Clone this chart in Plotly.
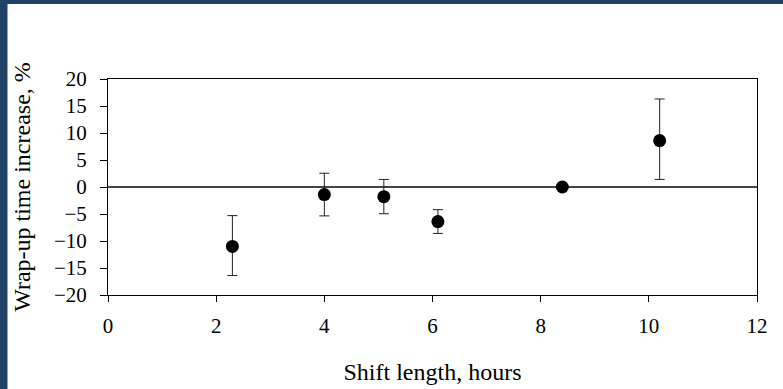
import plotly.graph_objects as go

shift_hours = [2.3, 4.0, 5.1, 6.1, 8.4, 10.2]
wrapup_increase = [-11.0, -1.4, -1.8, -6.4, 0.0, 8.6]
err_plus = [5.7, 3.95, 3.2, 2.2, 0.0, 7.7]
err_minus = [5.4, 3.95, 3.15, 2.2, 0.0, 7.2]

x_ticks = [0, 2, 4, 6, 8, 10, 12]
y_ticks = [-20, -15, -10, -5, 0, 5, 10, 15, 20]

FONT = "Liberation Serif, Times New Roman, serif"

fig = go.Figure()
fig.add_trace(go.Scatter(
    x=shift_hours, y=wrapup_increase, mode="markers",
    marker=dict(color="black", size=13),
    error_y=dict(type="data", symmetric=False, array=err_plus, arrayminus=err_minus,
                 color="#222222", thickness=1, width=5),
    showlegend=False,
))

axis_common = dict(showline=True, linecolor="black", linewidth=1, mirror=True,
                   ticks="outside", tickcolor="black", tickwidth=1, automargin=False,
                   showgrid=False, tickfont=dict(family=FONT, size=21, color="black"))

fig.update_layout(
    width=783, height=389,
    margin=dict(l=107.5, r=26, t=79, b=93.5),
    paper_bgcolor="white", plot_bgcolor="white",
    font=dict(family=FONT, size=21, color="black"),
    xaxis=dict(range=[0, 12], tickvals=x_ticks, ticklen=6, zeroline=False,
               ticklabelstandoff=6,
               title=dict(text="Shift length, hours", font=dict(family=FONT, size=24), standoff=25),
               **axis_common),
    yaxis=dict(range=[-20, 20], tickvals=y_ticks, ticklen=7, zeroline=True,
               zerolinecolor="#444444", zerolinewidth=1.5,
               ticklabelstandoff=9,
               title=dict(text="Wrap-up time increase, %", font=dict(family=FONT, size=24), standoff=16),
               **axis_common),
)

BLUE = "#1F4266"
# left border
fig.add_shape(type="rect", xref="paper", yref="paper", xsizemode="pixel", ysizemode="pixel",
              xanchor=0, yanchor=0, x0=-108, x1=-100.5, y0=-94, y1=296,
              fillcolor=BLUE, line=dict(width=0), layer="above")
# top border
fig.add_shape(type="rect", xref="paper", yref="paper", xsizemode="pixel", ysizemode="pixel",
              xanchor=0, yanchor=1, x0=-108, x1=680, y0=75, y1=80,
              fillcolor=BLUE, line=dict(width=0), layer="above")

fig.write_html("out.html", config={"displayModeBar": False},
               post_script="document.body.style.margin='0';")
